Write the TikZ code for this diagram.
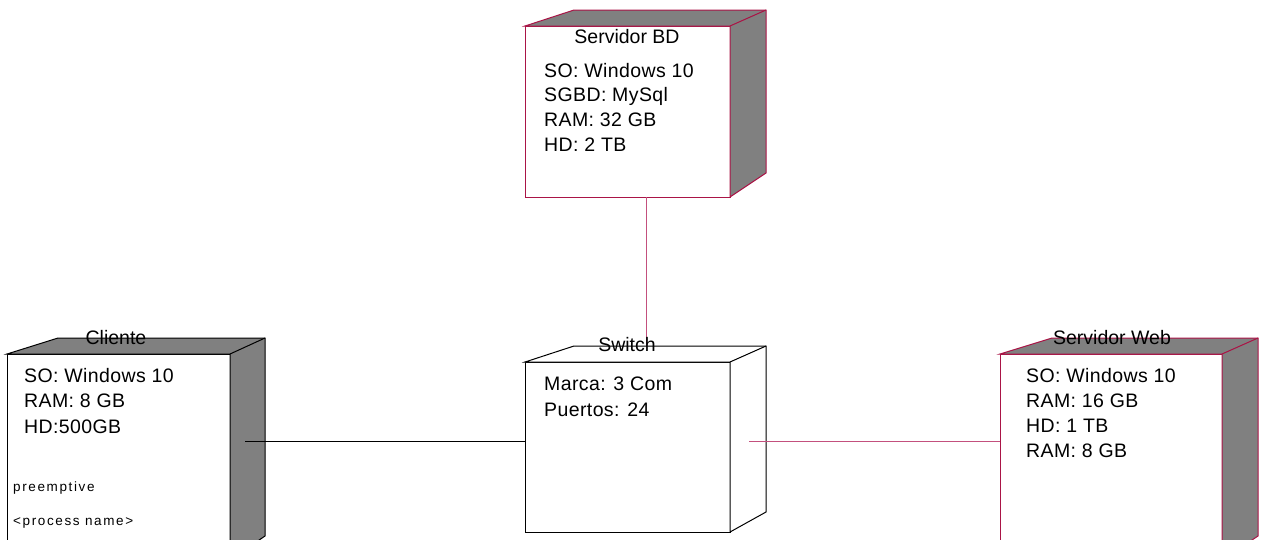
\documentclass[tikz,border=0pt]{standalone}
\usepackage{fontspec}
\setmainfont{Liberation Sans}
\usetikzlibrary{positioning}
\definecolor{rosered}{RGB}{170,20,70}
\definecolor{rosepink}{RGB}{195,80,125}
\definecolor{nodegray}{RGB}{128,128,128}

\begin{document}
\begin{tikzpicture}[
  x=1pt, y=-1pt,
  face/.style={draw, fill=white, line width=1pt, inner sep=0pt, outer sep=0pt},
  title/.style={font=\fontsize{19.5}{24}\selectfont, anchor=base, inner sep=0pt},
  info/.style={font=\fontsize{19.5}{24}\selectfont\addfontfeature{LetterSpace=2}, anchor=base west, inner sep=0pt},
  note/.style={font=\fontsize{13.5}{16}\selectfont\addfontfeature{LetterSpace=12},
    anchor=base west, inner sep=0pt},
  link/.style={line width=1pt}
]
  \clip (0,0) rectangle (1265,539);

  % front faces
  \node[face, draw=rosered, minimum width=205pt, minimum height=171pt] (bd) at (627.5,111.5) {};
  \node[face, minimum width=205pt, minimum height=170pt] (sw) at (627.5,447) {};
  \node[face, minimum width=223pt, minimum height=206pt] (cli) at (118.5,457) {};
  \node[face, draw=rosered, minimum width=222pt, minimum height=206pt] (web) at (1111,457) {};

  % top and side faces
  \foreach \n/\dl/\dr/\db/\col/\fil in {bd/49/36/24/rosered/nodegray,
      sw/49/36/20/black/white, cli/51/35/24/black/nodegray,
      web/52/36/24/rosered/nodegray} {
    \filldraw[draw=\col, fill=\fil, line width=1pt]
      (\n.north west) -- ++(\dl,-16) -- ([shift={(\dr,-16)}]\n.north east)
      -- ([shift={(\dr,-\db)}]\n.south east) -- (\n.south east)
      -- (\n.north east) -- cycle;
    \draw[draw=\col, line width=1pt] (\n.north east) -- ++(\dr,-16);
  }

  % connectors
  \coordinate (linky) at (0,441);
  \draw[link, rosepink] ([xshift=18.5pt]bd.south) -- ([shift={(18.5,-16)}]sw.north);
  \draw[link] ([xshift=15pt]cli.east |- linky) -- (sw.west |- linky);
  \draw[link, rosepink] ([xshift=19pt]sw.east |- linky) -- (web.west |- linky);

  % titles
  \node[title] (bdname) at (627,43) {Servidor BD};
  \node[title] (swname) at (627,351) {Switch};
  \node[title] (cliname) at (116,344) {Cliente};
  \node[title] (webname) at (1112,344) {Servidor Web};

  % properties
  \foreach \t [count=\i] in {SO: Windows 10, SGBD: MySql, RAM: 32 GB, HD: 2 TB}
    \node[info] (bd\i) at (544,77+24.7*\i-24.7) {\t};
  \foreach \t [count=\i] in {Marca: 3 Com, Puertos: 24}
    \node[info] (sw\i) at (544,390+26*\i-26) {\t};
  \foreach \t [count=\i] in {SO: Windows 10, RAM: 8 GB, HD:500GB}
    \node[info] (cli\i) at (24,382+25.8*\i-25.8) {\t};
  \foreach \t [count=\i] in {SO: Windows 10, RAM: 16 GB, HD: 1 TB, RAM: 8 GB}
    \node[info] (web\i) at (1026,382+25.3*\i-25.3) {\t};

  \node[note] (preempt) at (13,491) {preemptive};
  \node[note] (procname) at (13,525) {<process name>};
\end{tikzpicture}
\end{document}
